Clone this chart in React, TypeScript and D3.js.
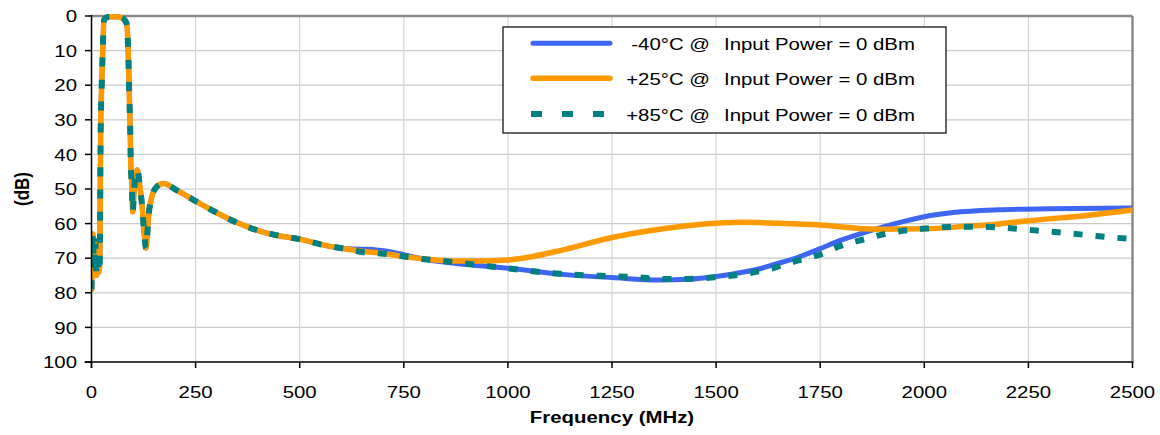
import React from "react";
import * as d3 from "d3";

// Shared low-frequency response (all three temperatures overlap here)
const lowBand: [number, number][] = [
  [0, 79], [3, 63], [6, 72], [9, 65], [12, 75], [15, 68], [18, 74], [20, 70], [22, 33], [25, 18],
  [27, 9.8], [30, 1.2], [35, 0.5], [45, 0.2], [60, 0.2], [72, 0.5], [80, 1.2], [85, 2.5],
  [88.5, 11.8], [91, 24], [93, 33], [94.5, 43.5], [97, 49], [99, 56.6], [102, 51], [106, 45.5],
  [110, 44.5], [116, 49], [121.6, 55], [126, 62], [131, 67.1], [134, 63], [137, 58], [145, 52.2],
  [157, 49.3], [173, 48.4], [204, 50.3], [250, 53.5], [300, 56.8], [349, 59.7], [400, 62],
  [450, 63.5], [500, 64.5], [550, 66], [604, 67.2],
];

const tailMinus40: [number, number][] = [
  [650, 67.4], [685, 67.6], [720, 68.2], [750, 69], [800, 70.3], [861, 71.3], [925, 72.1],
  [1000, 72.9], [1125, 74.6], [1250, 75.6], [1365, 76.3], [1432, 76.1], [1500, 75.3], [1548, 74.4],
  [1600, 73.2], [1640, 71.8], [1700, 69.6], [1750, 67.2], [1800, 64.8], [1861, 62.4], [1930, 60],
  [2000, 58], [2070, 56.8], [2180, 56], [2300, 55.7], [2500, 55.5],
];

const tailPlus25: [number, number][] = [
  [650, 68], [700, 68.6], [750, 69.5], [800, 70.2], [861, 70.8], [930, 70.8], [1000, 70.5],
  [1060, 69.5], [1125, 67.8], [1250, 64], [1377, 61.4], [1500, 59.9], [1565, 59.6], [1650, 59.9],
  [1750, 60.4], [1887, 61.6], [2000, 61.5], [2100, 60.8], [2180, 60.1], [2250, 59.2], [2400, 57.5],
  [2500, 56.1],
];

const tailPlus85: [number, number][] = [
  [650, 68.2], [700, 68.7], [750, 69.5], [800, 70.3], [861, 71], [925, 71.9], [1032, 73.4],
  [1125, 74.5], [1223, 75.1], [1297, 75.4], [1365, 76], [1432, 76], [1500, 75.5], [1570, 74.5],
  [1623, 73.3], [1687, 71], [1757, 68.6], [1793, 66.7], [1853, 64.6], [1905, 63], [1965, 61.8],
  [2004, 61.4], [2068, 60.9], [2128, 60.9], [2190, 61.2], [2252, 61.8], [2328, 62.6], [2390, 63.3],
  [2450, 64], [2500, 64.4],
];

const seriesNames = ["-40°C @", "+25°C @", "+85°C @"];
const legendSuffix = "Input Power = 0 dBm";
const xTicks = [0, 250, 500, 750, 1000, 1250, 1500, 1750, 2000, 2250, 2500];
const yTicks = [0, 10, 20, 30, 40, 50, 60, 70, 80, 90, 100];
const xTitle = "Frequency (MHz)";
const yTitle = "(dB)";

const FONT = "'Liberation Sans', Arial, sans-serif";
const SX = 1.2;

export default function App() {
  const L = 91.5, R = 1132.5, T = 16, B = 362;
  const x = d3.scaleLinear().domain([0, 2500]).range([L, R]);
  const y = d3.scaleLinear().domain([0, 100]).range([T, B]);
  const line = d3
    .line<[number, number]>()
    .x((d) => x(d[0]))
    .y((d) => y(d[1]))
    .curve(d3.curveMonotoneX);

  const series = [
    { data: lowBand.concat(tailMinus40), color: "#3D66F2", width: 5, dash: undefined as string | undefined },
    { data: lowBand.concat(tailPlus25), color: "#FF9900", width: 5.5, dash: undefined },
    { data: lowBand.concat(tailPlus85), color: "#008080", width: 6, dash: "9,13" },
  ];

  const legendRows = [43.3, 78.3, 114];

  return (
    <svg
      width={1160}
      height={435}
      style={{ position: "absolute", left: 0, top: 0, background: "#fff" }}
      fontFamily={FONT}
    >
      <defs>
        <clipPath id="plot">
          <rect x={L} y={T - 4} width={R - L} height={B - T + 4} />
        </clipPath>
      </defs>
      {/* grid */}
      {yTicks.filter((t) => t > 0 && t < 100).map((t) => (
        <line key={"gy" + t} x1={L} x2={R} y1={y(t)} y2={y(t)} stroke="#CACACA" strokeWidth={1.2} />
      ))}
      {xTicks.filter((t) => t > 0 && t < 2500).map((t) => (
        <line key={"gx" + t} x1={x(t)} x2={x(t)} y1={T} y2={B} stroke="#D4D4D4" strokeWidth={1.2} />
      ))}
      {/* top/right border */}
      <line x1={L} x2={R} y1={T} y2={T} stroke="#8A8A8A" strokeWidth={2.5} />
      <line x1={R} x2={R} y1={T} y2={B} stroke="#8A8A8A" strokeWidth={2.5} />

      {/* series */}
      <g clipPath="url(#plot)">
        {series.map((s, i) => (
          <path
            key={i}
            d={line(s.data) || ""}
            fill="none"
            stroke={s.color}
            strokeWidth={s.width}
            strokeDasharray={s.dash}
            strokeLinejoin="round"
            strokeLinecap={s.dash ? "butt" : "round"}
          />
        ))}
      </g>

      {/* axes */}
      <line x1={L} x2={L} y1={T - 1} y2={B + 6} stroke="#000" strokeWidth={1.5} />
      <line x1={L - 7} x2={R + 1} y1={B} y2={B} stroke="#000" strokeWidth={1.5} />
      {yTicks.map((t) => (
        <g key={"ty" + t}>
          <line x1={L - 6.5} x2={L} y1={y(t)} y2={y(t)} stroke="#000" strokeWidth={1.5} />
          <text
            transform={`translate(77,${y(t) + 6.2}) scale(${SX},1)`}
            textAnchor="end"
            fontSize={17}
            fill="#000"
          >
            {t}
          </text>
        </g>
      ))}
      {xTicks.map((t) => (
        <g key={"tx" + t}>
          <line x1={x(t)} x2={x(t)} y1={B} y2={B + 6} stroke="#000" strokeWidth={1.5} />
          <text
            transform={`translate(${x(t)},398) scale(${SX},1)`}
            textAnchor="middle"
            fontSize={17}
            fill="#000"
          >
            {t}
          </text>
        </g>
      ))}
      <text
        transform={`translate(${(L + R) / 2},423) scale(${SX},1)`}
        textAnchor="middle"
        fontSize={17}
        fontWeight="bold"
      >
        {xTitle}
      </text>
      <text
        transform={`translate(29,${(T + B) / 2}) scale(${SX},1) rotate(-90)`}
        textAnchor="middle"
        fontSize={17}
        fontWeight="bold"
      >
        {yTitle}
      </text>

      {/* legend */}
      <rect x={503} y={27} width={443} height={106} fill="#fff" stroke="#000" strokeWidth={1.2} />
      {series.map((s, i) => (
        <g key={"lg" + i}>
          <line
            x1={s.dash ? 531 : 533}
            x2={s.dash ? 604 : 610}
            y1={legendRows[i]}
            y2={legendRows[i]}
            stroke={s.color}
            strokeWidth={s.width}
            strokeDasharray={s.dash ? "11,20" : undefined}
            strokeLinecap={s.dash ? "butt" : "round"}
          />
          <text
            transform={`translate(710,${legendRows[i] + 6.5}) scale(${SX},1)`}
            textAnchor="end"
            fontSize={17}
          >
            {seriesNames[i]}
          </text>
          <text
            transform={`translate(724,${legendRows[i] + 6.5}) scale(${SX},1)`}
            textAnchor="start"
            fontSize={17}
          >
            {legendSuffix}
          </text>
        </g>
      ))}
    </svg>
  );
}
